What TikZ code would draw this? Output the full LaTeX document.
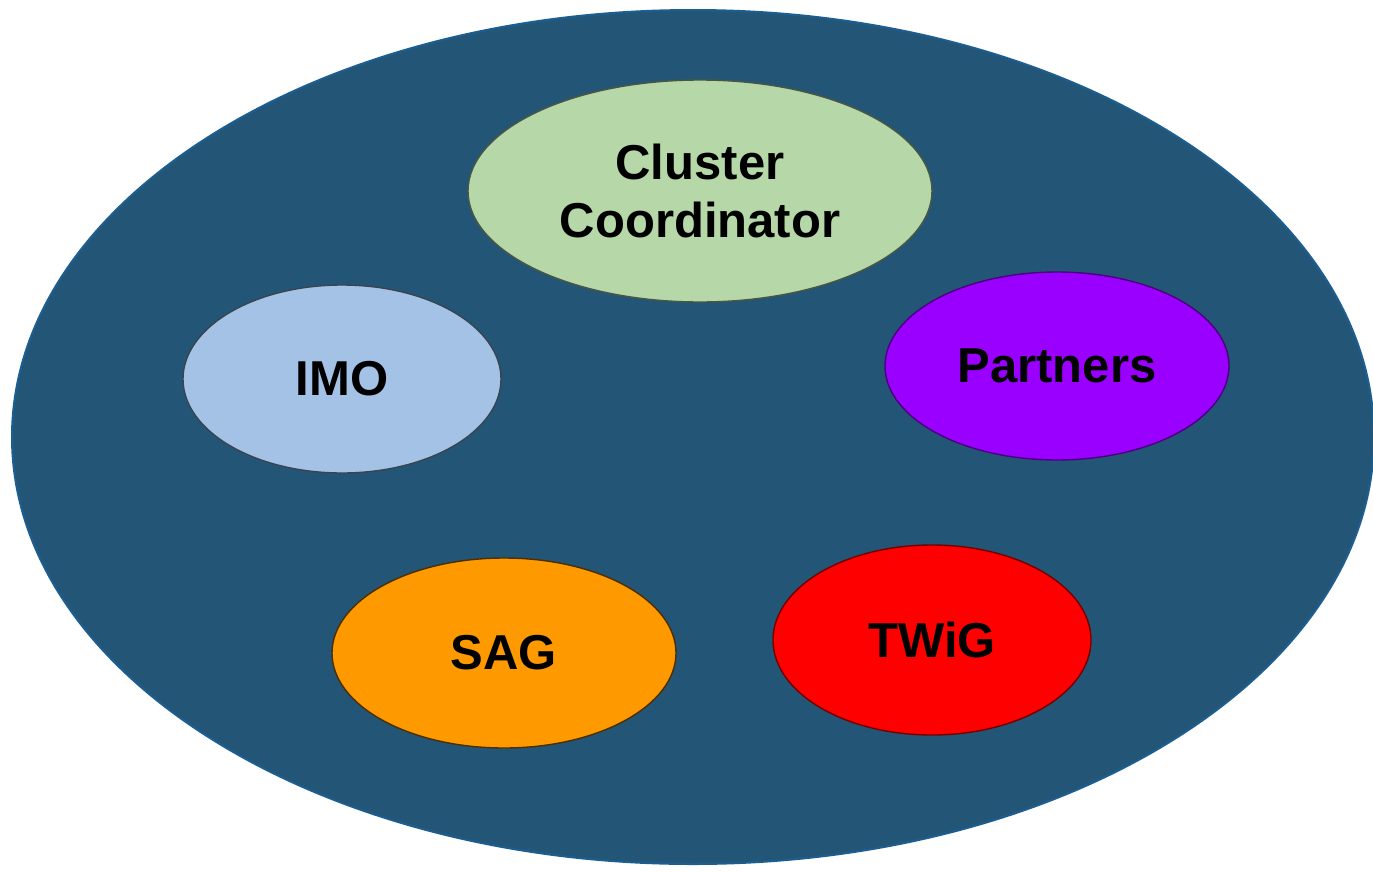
\documentclass[tikz,border=0pt]{standalone}
\usepackage{fontspec}
\setmainfont{Liberation Sans}
\usetikzlibrary{shapes.geometric}
\definecolor{bgblue}{HTML}{235676}
\definecolor{bgedge}{HTML}{1D5E92}
\definecolor{ccgreen}{HTML}{B6D7A8}
\definecolor{imoblue}{HTML}{A4C2E6}
\definecolor{ptpurple}{HTML}{9900FF}
\definecolor{sagorange}{HTML}{FF9900}
\definecolor{twigred}{HTML}{FF0000}
\tikzset{
  blob/.style={ellipse, inner sep=0pt, line width=1.4pt, align=center,
    font=\fontsize{49}{58}\selectfont\bfseries, text=black},
}
\begin{document}
\begin{tikzpicture}[x=1pt,y=-1pt]
\useasboundingbox (0,0) rectangle (1373,871);
\fill[white] (0,0) rectangle (1373,871);
\node[ellipse, fill=bgblue, draw=bgedge, line width=2pt, inner sep=0pt,
  minimum width=1362pt, minimum height=854pt] (outer) at (693,437) {};
\node[blob, fill=ccgreen, draw=ccgreen!40!black, minimum width=464pt, minimum height=222pt] (cc) at (700,191) {Cluster\\Coordinator};
\node[blob, fill=imoblue, draw=imoblue!35!black, minimum width=318pt, minimum height=188pt] (imo) at (342,379) {IMO};
\node[blob, fill=ptpurple, draw=ptpurple!50!black, minimum width=344pt, minimum height=188pt] (pt) at (1057,366) {Partners};
\node[blob, fill=sagorange, draw=sagorange!30!black, minimum width=344pt, minimum height=190pt] (sag) at (504,653) {SAG};
\node[blob, fill=twigred, draw=twigred!45!black, minimum width=318pt, minimum height=190pt] (twig) at (932,640) {TWiG};
\end{tikzpicture}
\end{document}
